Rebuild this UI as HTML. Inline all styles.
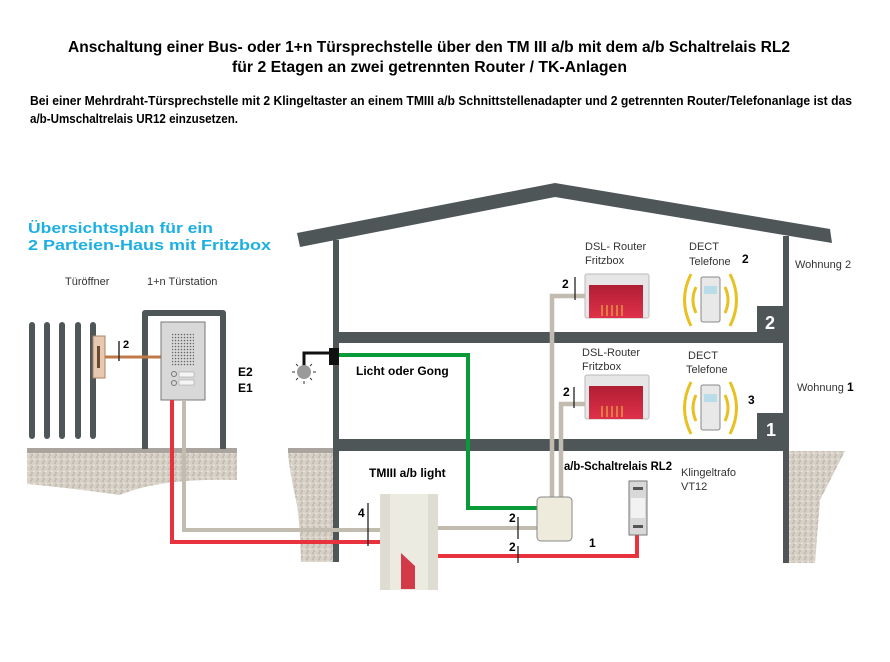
<!DOCTYPE html>
<html><head><meta charset="utf-8"><style>
body{margin:0;background:#fff}
svg{display:block}
text{font-family:"Liberation Sans",sans-serif}
.b{font-weight:bold}
</style></head><body>
<svg width="890" height="662" viewBox="0 0 890 662" xmlns="http://www.w3.org/2000/svg">
<defs>
<pattern id="g" width="6" height="6" patternUnits="userSpaceOnUse">
<rect width="6" height="6" fill="#d6d0c6"/><circle cx="1" cy="1" r="0.9" fill="#b8b0a4"/><circle cx="4" cy="3.5" r="0.9" fill="#efe9e0"/><circle cx="2" cy="5" r="0.7" fill="#a89f94"/>
</pattern>
<linearGradient id="rt" x1="0" y1="0" x2="0" y2="1"><stop offset="0" stop-color="#b01e34"/><stop offset="1" stop-color="#e0304a"/></linearGradient>
</defs>
<!-- titles -->
<text x="68" y="52" class="b" font-size="15.5" textLength="722" lengthAdjust="spacingAndGlyphs">Anschaltung einer Bus- oder 1+n Türsprechstelle über den TM III a/b mit dem a/b Schaltrelais  RL2</text>
<text x="232" y="72" class="b" font-size="15.5" textLength="395" lengthAdjust="spacingAndGlyphs">für 2 Etagen an zwei getrennten Router / TK-Anlagen</text>
<text x="30" y="105" class="b" font-size="12.5" textLength="822" lengthAdjust="spacingAndGlyphs">Bei einer Mehrdraht-Türsprechstelle mit 2 Klingeltaster an einem TMIII a/b Schnittstellenadapter und 2 getrennten Router/Telefonanlage ist das</text>
<text x="30" y="123" class="b" font-size="12.5" textLength="208" lengthAdjust="spacingAndGlyphs">a/b-Umschaltrelais UR12  einzusetzen.</text>
<text x="28" y="233" class="b" font-size="15" fill="#1cb0e2" textLength="185" lengthAdjust="spacingAndGlyphs">Übersichtsplan für ein</text>
<text x="28" y="250" class="b" font-size="15" fill="#1cb0e2" textLength="243" lengthAdjust="spacingAndGlyphs">2 Parteien-Haus mit Fritzbox</text>
<text x="65" y="285" font-size="11" fill="#333">Türöffner</text>
<text x="147" y="285" font-size="11" fill="#333">1+n  Türstation</text>

<!-- ground -->
<rect x="27" y="448" width="210" height="5" fill="#a9a49e"/>
<path d="M27 453 H237 V480 Q160 478 120 495 Q70 488 27 484 Z" fill="url(#g)"/>
<rect x="288" y="448" width="45" height="5" fill="#a9a49e"/>
<path d="M288 453 H333 V562 H301 Q300 520 296 500 Q290 475 288 453Z" fill="url(#g)"/>
<path d="M789 451 H845 L820 500 L815 563 H789Z" fill="url(#g)"/>

<!-- fence -->
<g stroke="#4f5658" stroke-width="6" stroke-linecap="round">
<line x1="32" y1="325" x2="32" y2="436"/><line x1="47" y1="325" x2="47" y2="436"/><line x1="62" y1="325" x2="62" y2="436"/><line x1="78" y1="325" x2="78" y2="436"/><line x1="93" y1="325" x2="93" y2="436"/>
</g>
<rect x="93" y="336" width="12" height="42" fill="#e8c8b0" stroke="#a88468"/>
<rect x="97" y="346" width="3" height="22" fill="#6a4a30"/>
<!-- door frame -->
<path d="M145 449 V313 H223 V449" fill="none" stroke="#4f5658" stroke-width="6" stroke-linejoin="round"/>
<line x1="105" y1="357" x2="161" y2="357" stroke="#c07a48" stroke-width="3"/>
<line x1="119" y1="341" x2="119" y2="361" stroke="#333" stroke-width="1.5"/>
<text x="123" y="348" class="b" font-size="11">2</text>
<rect x="161" y="322" width="44" height="78" fill="#d8d8d8" stroke="#777"/>
<pattern id="sp" width="3" height="3" patternUnits="userSpaceOnUse"><circle cx="1.5" cy="1.5" r="0.8" fill="#666"/></pattern>
<rect x="172" y="333" width="22" height="33" fill="url(#sp)"/>
<circle cx="174" cy="374" r="2.5" fill="none" stroke="#777"/><circle cx="174" cy="383" r="2.5" fill="none" stroke="#777"/>
<rect x="179" y="372" width="15" height="5" fill="#f5f5f5" stroke="#999" stroke-width=".5"/><rect x="179" y="380" width="15" height="5" fill="#f5f5f5" stroke="#999" stroke-width=".5"/>
<text x="238" y="376" class="b" font-size="12">E2</text>
<text x="238" y="392" class="b" font-size="12">E1</text>

<!-- house -->
<path d="M297 233 L555 183 L830 229 L832 243 L555 197 L300 247Z" fill="#4f5658"/>
<rect x="333" y="240" width="6" height="322" fill="#4f5658"/>
<rect x="783" y="236" width="6" height="327" fill="#4f5658"/>
<rect x="333" y="332" width="456" height="11" fill="#4f5658"/>
<rect x="333" y="439" width="456" height="12" fill="#4f5658"/>
<rect x="757" y="306" width="30" height="30" fill="#4f5658"/>
<rect x="757" y="413" width="30" height="30" fill="#4f5658"/>
<text x="765" y="329" class="b" font-size="18" fill="#fff">2</text>
<text x="766" y="436" class="b" font-size="18" fill="#fff">1</text>
<text x="795" y="268" font-size="11" fill="#333">Wohnung 2</text>
<text x="797" y="391" font-size="11" fill="#333">Wohnung <tspan class="b" font-size="12" fill="#000">1</tspan></text>

<!-- light -->
<path d="M304 368 V353 H330" fill="none" stroke="#111" stroke-width="3"/>
<rect x="329" y="348" width="10" height="17" fill="#111"/>
<circle cx="304" cy="372" r="7" fill="#9a9a9a"/>
<g stroke="#333" stroke-width="1"><line x1="292" y1="372" x2="295" y2="372"/><line x1="313" y1="372" x2="316" y2="372"/><line x1="304" y1="381" x2="304" y2="384"/><line x1="296" y1="364" x2="298" y2="366"/><line x1="312" y1="364" x2="310" y2="366"/><line x1="296" y1="380" x2="298" y2="378"/><line x1="312" y1="380" x2="310" y2="378"/></g>
<text x="356" y="375" class="b" font-size="12">Licht oder Gong</text>
<text x="369" y="477" class="b" font-size="12">TMIII a/b light</text>

<!-- wires -->
<g fill="none" stroke-linejoin="miter">
<path d="M339 355 H468 V508 H537" stroke="#0a9a3a" stroke-width="4"/>
<path d="M184 400 V530 H382" stroke="#c2bbb0" stroke-width="4"/>
<path d="M172 400 V542 H382" stroke="#e8323e" stroke-width="4"/>
<path d="M438 556 H637 V534" stroke="#e8323e" stroke-width="4"/>
<path d="M438 528 H537" stroke="#c2bbb0" stroke-width="4"/>
<path d="M552 498 V296 H585" stroke="#c2bbb0" stroke-width="4.5"/>
<path d="M561 498 V404 H585" stroke="#c2bbb0" stroke-width="4.5"/>
</g>
<g stroke="#222" stroke-width="1.3">
<line x1="368" y1="503" x2="368" y2="546"/>
<line x1="518" y1="517" x2="518" y2="539"/>
<line x1="518" y1="546" x2="518" y2="563"/>
<line x1="575" y1="277" x2="575" y2="300"/>
<line x1="574" y1="387" x2="574" y2="408"/>
</g>
<text x="358" y="517" class="b" font-size="12">4</text>
<text x="509" y="522" class="b" font-size="12">2</text>
<text x="509" y="551" class="b" font-size="12">2</text>
<text x="562" y="288" class="b" font-size="12">2</text>
<text x="563" y="396" class="b" font-size="12">2</text>
<text x="589" y="547" class="b" font-size="12">1</text>

<!-- TMIII -->
<rect x="380" y="494" width="58" height="96" fill="#ecebe2"/>
<rect x="380" y="494" width="10" height="96" fill="#dfddd2"/><rect x="428" y="494" width="10" height="96" fill="#dfddd2"/>
<path d="M401 553 L415 566 V589 H401Z" fill="#d23a48"/>
<!-- RL2 box -->
<rect x="537" y="497" width="35" height="44" rx="4" fill="#eeebdc" stroke="#888"/>
<text x="564" y="470" class="b" font-size="12" textLength="108" lengthAdjust="spacingAndGlyphs">a/b-Schaltrelais RL2</text>
<!-- relay / trafo -->
<rect x="629" y="481" width="18" height="54" fill="#d8d8d8" stroke="#777"/>
<rect x="633" y="487" width="10" height="3" fill="#555"/><rect x="633" y="525" width="10" height="3" fill="#555"/>
<rect x="631" y="498" width="14" height="20" fill="#f2f2f2"/>
<text x="681" y="476" font-size="11" fill="#333">Klingeltrafo</text>
<text x="681" y="490" font-size="11" fill="#333">VT12</text>

<!-- routers -->
<g id="r1">
<rect x="585" y="274" width="64" height="44" rx="2" fill="#e6e6e6" stroke="#bbb"/>
<rect x="589" y="285" width="54" height="33" fill="url(#rt)"/>
<g stroke="#e8b040" stroke-width="1.2"><line x1="602" y1="305" x2="602" y2="316"/><line x1="607" y1="305" x2="607" y2="316"/><line x1="612" y1="305" x2="612" y2="316"/><line x1="617" y1="305" x2="617" y2="316"/><line x1="622" y1="305" x2="622" y2="316"/></g>
</g>
<use href="#r1" y="101"/>
<text x="585" y="250" font-size="11" fill="#333">DSL- Router</text>
<text x="585" y="264" font-size="11" fill="#333">Fritzbox</text>
<text x="582" y="356" font-size="11" fill="#333">DSL-Router</text>
<text x="582" y="370" font-size="11" fill="#333">Fritzbox</text>
<text x="689" y="250" font-size="11" fill="#333">DECT</text>
<text x="689" y="265" font-size="11" fill="#333">Telefone</text>
<text x="742" y="263" class="b" font-size="12">2</text>
<text x="688" y="359" font-size="11" fill="#333">DECT</text>
<text x="686" y="373" font-size="11" fill="#333">Telefone</text>
<text x="748" y="404" class="b" font-size="12">3</text>
<!-- phones -->
<g id="ph">
<rect x="701" y="277" width="19" height="45" rx="2" fill="#e8e8e8" stroke="#888"/>
<rect x="704" y="286" width="13" height="8" fill="#b8dde8"/>
<g fill="none" stroke="#e8c020" stroke-width="3"><path d="M691 274 Q678 300 691 326"/><path d="M730 274 Q743 300 730 326"/><path d="M696 287 Q690 300 696 313"/><path d="M725 287 Q731 300 725 313"/></g>
</g>
<use href="#ph" y="108"/>
</svg>
</body></html>
